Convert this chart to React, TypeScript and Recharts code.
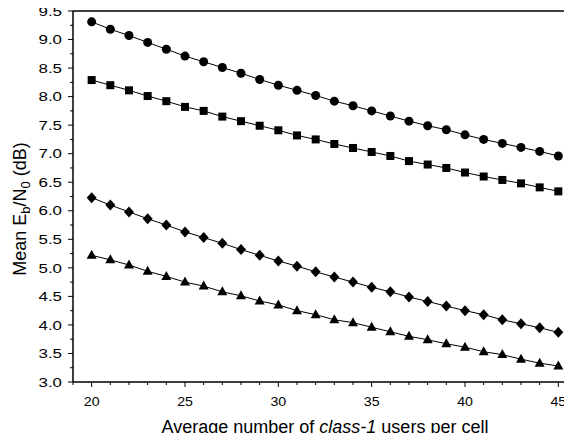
import { LineChart, Line, XAxis, YAxis, ReferenceLine } from "recharts";

// number of class-1 users per cell
const users = [20, 21, 22, 23, 24, 25, 26, 27, 28, 29, 30, 31, 32, 33, 34, 35, 36, 37, 38, 39, 40, 41, 42, 43, 44, 45];

// mean Eb/N0 in dB, one list per curve (top to bottom)
const circleSeries = [9.31, 9.18, 9.07, 8.95, 8.83, 8.71, 8.61, 8.51, 8.41, 8.3, 8.2, 8.11, 8.02, 7.92, 7.84, 7.75, 7.66, 7.57, 7.49, 7.42, 7.33, 7.25, 7.18, 7.11, 7.04, 6.96];
const squareSeries = [8.29, 8.2, 8.11, 8.01, 7.92, 7.82, 7.75, 7.65, 7.57, 7.49, 7.41, 7.32, 7.25, 7.17, 7.1, 7.03, 6.96, 6.87, 6.81, 6.75, 6.67, 6.6, 6.54, 6.48, 6.41, 6.34];
const diamondSeries = [6.23, 6.1, 5.98, 5.86, 5.75, 5.63, 5.53, 5.43, 5.32, 5.22, 5.12, 5.03, 4.93, 4.84, 4.75, 4.66, 4.58, 4.49, 4.41, 4.33, 4.25, 4.18, 4.09, 4.02, 3.95, 3.87];
const triangleSeries = [5.22, 5.14, 5.05, 4.94, 4.85, 4.75, 4.68, 4.58, 4.51, 4.42, 4.35, 4.25, 4.18, 4.09, 4.04, 3.96, 3.88, 3.8, 3.74, 3.67, 3.61, 3.53, 3.48, 3.4, 3.33, 3.28];

// axis ticks: every integer on x (labels on multiples of 5), every 0.25 on y (labels on 0.5)
const xTicks = [19, 20, 21, 22, 23, 24, 25, 26, 27, 28, 29, 30, 31, 32, 33, 34, 35, 36, 37, 38, 39, 40, 41, 42, 43, 44, 45, 46];
const yLabels = [3.0, 3.5, 4.0, 4.5, 5.0, 5.5, 6.0, 6.5, 7.0, 7.5, 8.0, 8.5, 9.0, 9.5];
const yTicks = yLabels.flatMap((v, i) => (i < yLabels.length - 1 ? [v, v + 0.25] : [v]));

const rows = users.map((u, i) => ({
  u,
  c: circleSeries[i],
  s: squareSeries[i],
  d: diamondSeries[i],
  t: triangleSeries[i],
}));

const font = '"Liberation Sans", Arial, Helvetica, sans-serif';

function XTick(props: any) {
  const { x, y, payload } = props;
  const major = payload.value % 5 === 0;
  return (
    <g>
      <line x1={x} y1={y} x2={x} y2={y + (major ? 5 : 3)} stroke="#000" strokeWidth={1} />
      {major && payload.value >= 20 && payload.value <= 45 && (
        <text
          transform={`translate(${x},${y + 24}) scale(1.05,1)`}
          textAnchor="middle"
          fontSize={13.5}
          fontFamily={font}
          fill="#000"
        >
          {payload.value}
        </text>
      )}
    </g>
  );
}

function YTick(props: any) {
  const { x, y, payload } = props;
  const v = payload.value as number;
  const major = Math.abs(v * 2 - Math.round(v * 2)) < 1e-6;
  return (
    <g>
      <line x1={x} y1={y} x2={x - (major ? 5 : 3)} y2={y} stroke="#000" strokeWidth={1} />
      {major && (
        <text
          transform={`translate(${x - 11},${y}) scale(1.3,1)`}
          dy="0.36em"
          textAnchor="end"
          fontSize={13}
          fontFamily={font}
          fill="#000"
        >
          {v.toFixed(1)}
        </text>
      )}
    </g>
  );
}

function marker(kind: string) {
  return (p: any) => {
    const { cx, cy, index } = p;
    if (cx == null || cy == null) return <g key={index} />;
    if (kind === "circle") return <circle key={index} cx={cx} cy={cy} r={4.5} fill="#000" />;
    if (kind === "square")
      return <rect key={index} x={cx - 4} y={cy - 4} width={8} height={8} fill="#000" />;
    if (kind === "diamond")
      return (
        <polygon
          key={index}
          points={`${cx},${cy - 5.5} ${cx + 5},${cy} ${cx},${cy + 5.5} ${cx - 5},${cy}`}
          fill="#000"
        />
      );
    return (
      <polygon
        key={index}
        points={`${cx},${cy - 5.5} ${cx + 5},${cy + 3.5} ${cx - 5},${cy + 3.5}`}
        fill="#000"
      />
    );
  };
}

function YTitle(props: any) {
  const { viewBox } = props;
  const cx = viewBox.x + 26;
  const cy = viewBox.y + viewBox.height / 2 + 12.5;
  return (
    <text
      transform={`translate(${cx},${cy}) rotate(-90)`}
      textAnchor="middle"
      fontSize={18}
      fontFamily={font}
      fill="#000"
    >
      Mean E
      <tspan fontSize={13} dy={4}>b</tspan>
      <tspan dy={-4}>/N</tspan>
      <tspan fontSize={13} dy={4}>0</tspan>
      <tspan dy={-4}> (dB)</tspan>
    </text>
  );
}

function XTitle(props: any) {
  const { viewBox } = props;
  return (
    <text
      x={viewBox.x + viewBox.width / 2}
      y={viewBox.y + 51}
      textAnchor="middle"
      fontSize={18}
      fontFamily={font}
      fill="#000"
    >
      Average number of <tspan fontStyle="italic">class-1</tspan> users per cell
    </text>
  );
}

export default function App() {
  const axisStroke = { stroke: "#000", strokeWidth: 1.5 };
  return (
    <div style={{ margin: -8, width: 572, height: 441, overflow: "hidden" }}>
      <LineChart width={608} height={441} data={rows} margin={{ top: 11, right: 31, bottom: 0, left: 0 }}>
        <XAxis
          dataKey="u"
          type="number"
          domain={[19, 46]}
          ticks={xTicks}
          interval={0}
          tickLine={false}
          tickSize={0}
          tickMargin={0}
          tick={<XTick />}
          axisLine={axisStroke}
          height={59}
          label={{ content: <XTitle /> }}
        />
        <YAxis
          type="number"
          domain={[3, 9.5]}
          ticks={yTicks}
          interval={0}
          tickLine={false}
          tickSize={0}
          tickMargin={0}
          tick={<YTick />}
          axisLine={axisStroke}
          width={73}
          label={{ content: <YTitle /> }}
        />
        <ReferenceLine y={9.5} stroke="#000" strokeWidth={1.5} />
        <ReferenceLine x={46} stroke="#000" strokeWidth={1.5} />
        <Line type="linear" dataKey="c" stroke="#000" strokeWidth={1} dot={marker("circle")} activeDot={false} isAnimationActive={false} />
        <Line type="linear" dataKey="s" stroke="#000" strokeWidth={1} dot={marker("square")} activeDot={false} isAnimationActive={false} />
        <Line type="linear" dataKey="d" stroke="#000" strokeWidth={1} dot={marker("diamond")} activeDot={false} isAnimationActive={false} />
        <Line type="linear" dataKey="t" stroke="#000" strokeWidth={1} dot={marker("triangle")} activeDot={false} isAnimationActive={false} />
      </LineChart>
    </div>
  );
}
